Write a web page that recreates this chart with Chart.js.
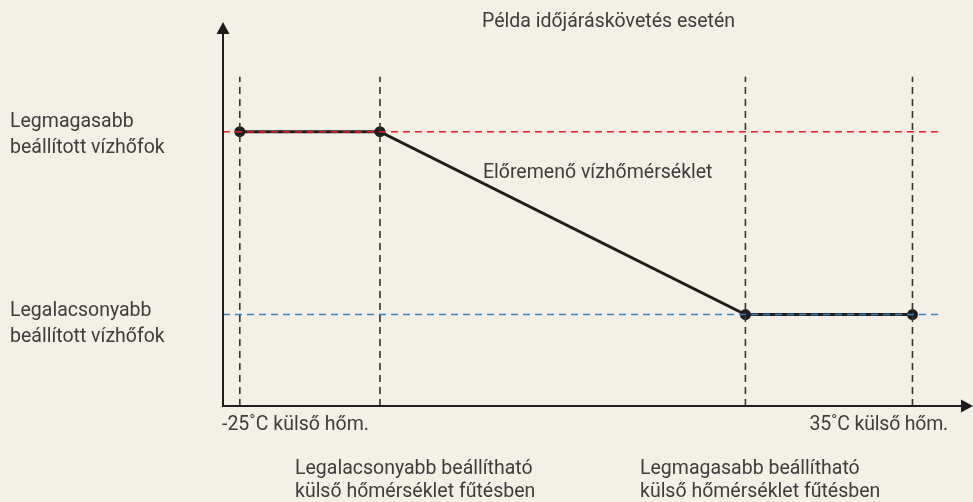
<!DOCTYPE html>
<html>
<head>
<meta charset="utf-8">
<script src="https://cdn.jsdelivr.net/npm/chart.js@4"></script>
<style>
  html, body { margin: 0; padding: 0; background: #f4f0e6; }
  #wrap { position: relative; width: 973px; height: 502px; background: #f4f0e6; overflow: hidden; }
  #c { position: absolute; left: 0; top: 0; }
  .lbl { position: absolute; font-family: Roboto, "Noto Sans", sans-serif; font-size: 19.5px; line-height: 25px; color: #3d3d3d; white-space: nowrap; }
</style>
</head>
<body>
<div id="wrap">
  <canvas id="c" width="973" height="502"></canvas>
  <div class="lbl" id="title" style="left:482px; top:8px;"></div>
  <div class="lbl" id="yHigh" style="left:10px; top:108px; line-height:25.5px;"></div>
  <div class="lbl" id="yLow" style="left:10px; top:297px; line-height:25.5px;"></div>
  <div class="lbl" id="xMin" style="left:222px; top:411px;"></div>
  <div class="lbl" id="xMax" style="right:25px; top:411px; letter-spacing:-0.2px;"></div>
  <div class="lbl" id="lowHeat" style="left:295px; top:456px; line-height:23px;"></div>
  <div class="lbl" id="highHeat" style="left:640px; top:456px; line-height:23px;"></div>
  <div class="lbl" id="curve" style="left:483px; top:159px;"></div>
</div>
<script>
// ---- data ----
const outdoorTemps = [-25, -12.5, 20.1, 35];    // breakpoints on the outdoor temperature axis
const flowTemps = [60, 60, 20, 20];             // flow water temperature at each breakpoint
const maxWaterTemp = 60;
const minWaterTemp = 20;
const guideTop = 72;                            // top of the vertical guide lines
const limitLineEnd = 37.5;                      // where the horizontal limit lines end
const xRange = [-26.5, 40.4];
const yRange = [0, 84];

const titleText = "Példa időjáráskövetés esetén";
const yLabels = ["Legmagasabb\nbeállított vízhőfok", "Legalacsonyabb\nbeállított vízhőfok"];
const xTickLabels = ["-25˚C külső hőm.", "35˚C külső hőm."];
const heatLabels = ["Legalacsonyabb beállítható\nkülső hőmérséklet fűtésben", "Legmagasabb beállítható\nkülső hőmérséklet fűtésben"];
const curveLabel = "Előremenő vízhőmérséklet";

// ---- text ----
function setText(id, t) { document.getElementById(id).innerHTML = t.split("\n").join("<br>"); }
setText("title", titleText);
setText("yHigh", yLabels[0]);
setText("yLow", yLabels[1]);
setText("xMin", xTickLabels[0]);
setText("xMax", xTickLabels[1]);
setText("lowHeat", heatLabels[0]);
setText("highHeat", heatLabels[1]);
setText("curve", curveLabel);

// ---- datasets ----
const guideSets = outdoorTemps.map(x => ({
  data: [{x: x, y: yRange[0]}, {x: x, y: guideTop}],
  borderColor: "#333333", borderWidth: 1.6, borderDash: [7, 5],
  pointRadius: 0, fill: false
}));
const maxSet = {
  data: [{x: xRange[0], y: maxWaterTemp}, {x: limitLineEnd, y: maxWaterTemp}],
  borderColor: "#ee1c25", borderWidth: 1.6, borderDash: [7, 5], pointRadius: 0, fill: false
};
const minSet = {
  data: [{x: xRange[0], y: minWaterTemp}, {x: limitLineEnd, y: minWaterTemp}],
  borderColor: "#3a7fc1", borderWidth: 1.6, borderDash: [7, 5], pointRadius: 0, fill: false
};
const curveSet = {
  data: outdoorTemps.map((x, i) => ({x: x, y: flowTemps[i]})),
  borderColor: "#1e1e1e", backgroundColor: "#1e1e1e", borderWidth: 3,
  pointRadius: 5.5, pointBorderWidth: 0, pointStyle: "circle",
  pointBackgroundColor: "#1e1e1e", pointBorderColor: "#1e1e1e", fill: false
};

const axesPlugin = {
  id: "axesArrows",
  afterDatasetsDraw(chart) {
    const ctx = chart.ctx;
    const xs = chart.scales.x, ys = chart.scales.y;
    const x0 = xs.getPixelForValue(xRange[0]);
    const y0 = ys.getPixelForValue(yRange[0]);
    const yTop = ys.getPixelForValue(yRange[1]);
    const xEnd = xs.getPixelForValue(xRange[1]);
    ctx.save();
    ctx.strokeStyle = "#1e1e1e";
    ctx.fillStyle = "#1e1e1e";
    ctx.lineWidth = 2;
    ctx.beginPath();
    ctx.moveTo(x0, yTop + 10); ctx.lineTo(x0, y0);
    ctx.lineTo(xEnd - 10, y0);
    ctx.stroke();
    // y arrow
    ctx.beginPath();
    ctx.moveTo(x0, yTop); ctx.lineTo(x0 - 6.5, yTop + 12); ctx.lineTo(x0 + 6.5, yTop + 12); ctx.closePath(); ctx.fill();
    // x arrow
    ctx.beginPath();
    ctx.moveTo(xEnd, y0); ctx.lineTo(xEnd - 12, y0 - 6.5); ctx.lineTo(xEnd - 12, y0 + 6.5); ctx.closePath(); ctx.fill();
    ctx.restore();
  }
};

new Chart(document.getElementById("c"), {
  type: "line",
  data: { datasets: [...guideSets, maxSet, minSet, curveSet] },
  options: {
    responsive: false,
    animation: false,
    layout: { autoPadding: false, padding: { left: 223, right: 0, top: 22, bottom: 96 } },
    plugins: { legend: { display: false }, tooltip: { enabled: false }, title: { display: false } },
    scales: {
      x: { type: "linear", min: xRange[0], max: xRange[1], display: false },
      y: { type: "linear", min: yRange[0], max: yRange[1], display: false }
    },
    elements: { line: { tension: 0 } }
  },
  plugins: [axesPlugin]
});
</script>
</body>
</html>
